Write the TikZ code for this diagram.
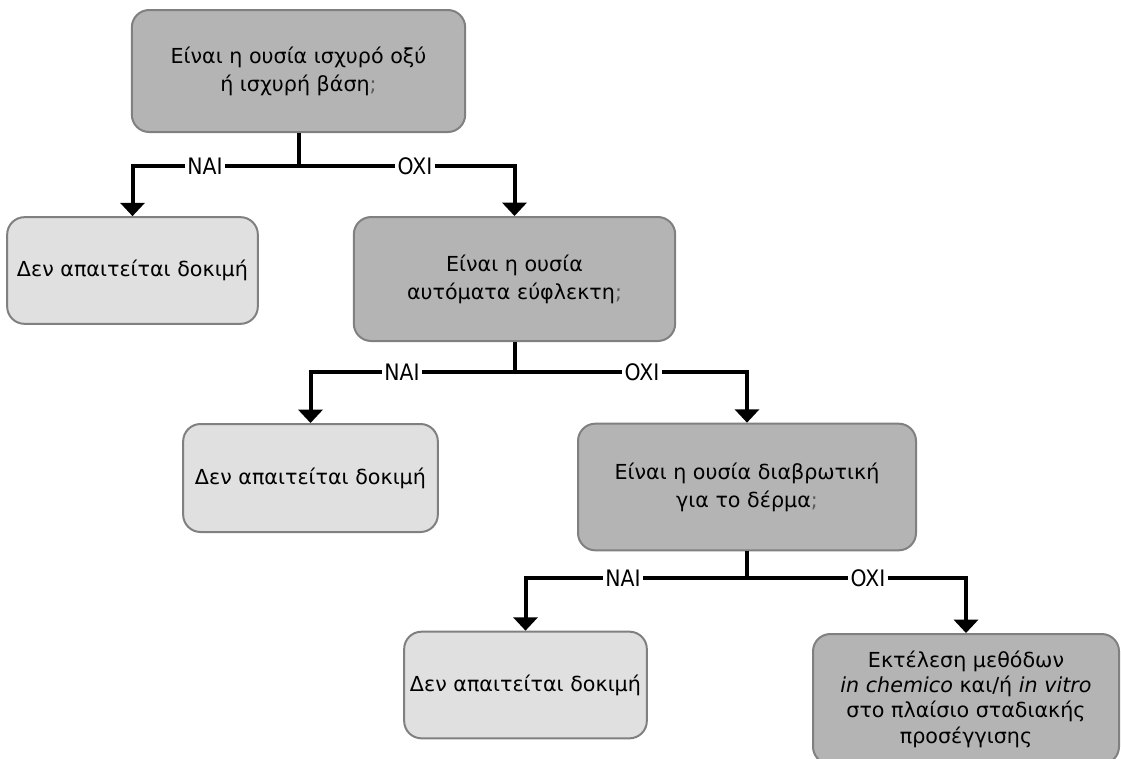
\documentclass[tikz,border=0pt]{standalone}
\usepackage{fontspec}
\setmainfont{DejaVu Sans}
\newfontfamily\labelfont{DejaVu Sans Condensed}
\usetikzlibrary{positioning,arrows.meta}
\definecolor{qfill}{HTML}{B4B4B4}
\definecolor{afill}{HTML}{E0E0E0}
\definecolor{edge}{HTML}{808080}
\newcommand{\qm}{\textcolor{edge!70!black}{;}}

\begin{document}
\begin{tikzpicture}[x=0.75pt,y=-0.75pt,
    font=\fontsize{15.5}{21}\selectfont,
    box/.style={draw=edge,line width=1.5pt,rounded corners=13pt,align=center,inner sep=2pt},
    ques/.style={box,fill=qfill},
    done/.style={box,fill=afill},
    link/.style={line width=3pt},
    arr/.style={link,-{Triangle[width=18pt,length=10pt]}},
    lbl/.style={inner sep=1.5pt,font=\labelfont\fontsize{17}{18}\selectfont}]
  \useasboundingbox (0,0) rectangle (1121,758);

  % questions
  \node[ques,minimum width=250pt,minimum height=91.5pt] (q1) at (298.5,71)
    {Είναι η ουσία ισχυρό οξύ\\ή ισχυρή βάση\qm};
  \node[ques,minimum width=241pt,minimum height=93pt] (q2) at (514.5,279)
    {Είναι η ουσία\\αυτόματα εύφλεκτη\qm};
  \node[ques,minimum width=253.5pt,minimum height=95pt] (q3) at (747,487)
    {Είναι η ουσία διαβρωτική\\για το δέρμα\qm};

  % outcomes
  \node[done,minimum width=188pt,minimum height=80pt] (a1) at (132.5,270.5) {Δεν απαιτείται δοκιμή};
  \node[done,minimum width=191pt,minimum height=81pt] (a2) at (310.5,478) {Δεν απαιτείται δοκιμή};
  \node[done,minimum width=182pt,minimum height=80pt] (a3) at (525.5,685) {Δεν απαιτείται δοκιμή};
  \node[ques,minimum width=229.5pt,minimum height=97.5pt,font=\fontsize{15.5}{19}\selectfont] (act) at (966,699)
    {Εκτέλεση μεθόδων\\\textit{in chemico} και/ή \textit{in vitro}\\στο πλαίσιο σταδιακής\\προσέγγισης};

  % split points and labels
  \coordinate (s1) at (q1.south |- 0,166);
  \coordinate (s2) at (q2.south |- 0,372);
  \coordinate (s3) at (q3.south |- 0,578);
  \node[lbl] (y1) at (205,166) {NAI};
  \node[lbl] (n1) at (415,166) {OXI};
  \node[lbl] (y2) at (402,372) {NAI};
  \node[lbl] (n2) at (642,372) {OXI};
  \node[lbl] (y3) at (623,578) {NAI};
  \node[lbl] (n3) at (868,578) {OXI};

  % connectors
  \foreach \q/\s/\y/\n/\a/\b in {q1/s1/y1/n1/a1/q2, q2/s2/y2/n2/a2/q3, q3/s3/y3/n3/a3/act} {
    \draw[link] (\q.south) -- (\s);
    \draw[arr] (\s) -- (\y) -| (\a);
    \draw[arr] (\s) -- (\n) -| (\b);
  }
\end{tikzpicture}
\end{document}
